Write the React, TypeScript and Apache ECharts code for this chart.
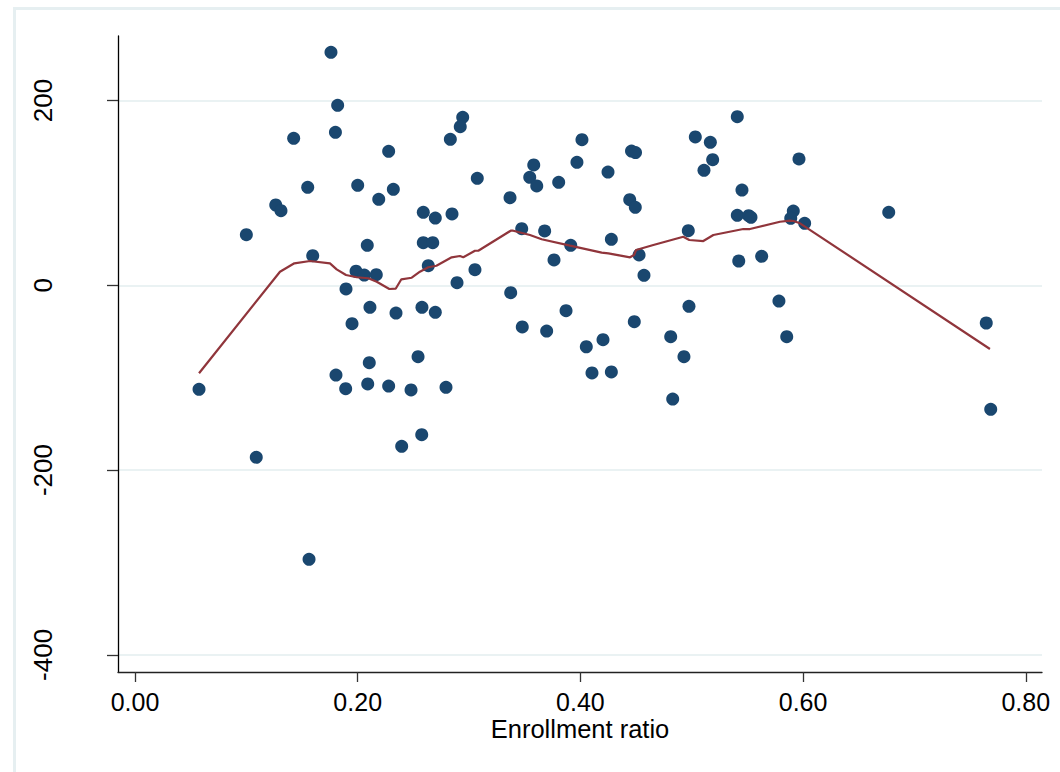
import React, { useEffect, useRef } from "react";
import * as echarts from "echarts";

// Scatter data: enrollment ratio (x) and residual value (y)
const enrollX: number[] = [
  0.176, 0.182, 0.180, 0.1425, 0.2278, 0.2943, 0.2921, 0.2832, 0.1551, 0.2,
  0.232, 0.2189, 0.3074, 0.1264, 0.1311, 0.2589, 0.2697, 0.2847, 0.1, 0.2086,
  0.2589, 0.2674, 0.1596, 0.2634, 0.1985, 0.2059, 0.2167, 0.3053, 0.2892, 0.1895,
  0.211, 0.2344, 0.2577, 0.2697, 0.1949, 0.3374, 0.3478, 0.3697, 0.0575, 0.1089,
  0.1563, 0.1805, 0.2104, 0.1892, 0.209, 0.2278, 0.2479, 0.2542, 0.2793, 0.2395,
  0.2575, 0.4014, 0.3581, 0.3545, 0.3608, 0.3805, 0.3969, 0.3368, 0.4248, 0.4459,
  0.4495, 0.4443, 0.4493, 0.3473, 0.3679, 0.3913, 0.3763, 0.4278, 0.4527, 0.4571,
  0.5032, 0.5167, 0.5188, 0.511, 0.5409, 0.5451, 0.5409, 0.5511, 0.5532, 0.5963,
  0.5912, 0.5889, 0.6014, 0.4969, 0.5422, 0.5628, 0.6769, 0.3871, 0.4053, 0.4203,
  0.4104, 0.4278, 0.4484, 0.4811, 0.493, 0.4829, 0.4975, 0.5783, 0.5853, 0.7645,
  0.7685,
];
const residY: number[] = [
  252.2, 194.8, 165.6, 159.1, 145.0, 181.8, 171.6, 158.0, 106.1, 108.2,
  103.9, 93.1, 115.8, 86.9, 80.7, 79.0, 72.8, 77.2, 54.8, 43.3,
  46.1, 46.1, 32.0, 21.2, 15.2, 11.1, 11.5, 16.9, 2.8, -4.0,
  -23.8, -30.0, -23.8, -29.2, -41.6, -8.0, -45.1, -49.5, -112.6, -186.1,
  -296.5, -97.1, -83.8, -111.9, -106.8, -109.0, -113.3, -77.3, -110.4, -174.2,
  -161.7, 157.6, 130.2, 116.9, 107.5, 111.5, 133.1, 94.8, 122.6, 145.3,
  143.7, 92.6, 84.4, 61.3, 58.8, 43.3, 27.4, 49.8, 32.8, 10.8,
  160.5, 154.8, 135.9, 124.5, 182.5, 103.1, 75.8, 75.3, 73.6, 136.7,
  80.4, 72.5, 67.1, 59.1, 26.3, 31.4, 79.0, -27.5, -66.5, -58.9,
  -94.9, -93.8, -39.4, -55.6, -77.3, -123.1, -22.7, -17.0, -55.6, -40.8,
  -134.2,
];

// Smoothed (lowess) curve
const smoothX: number[] = [
  0.0575, 0.1302, 0.1431, 0.1572, 0.1751, 0.1811, 0.1895, 0.1991, 0.2095, 0.2171,
  0.2284, 0.2341, 0.2392, 0.2485, 0.2559, 0.2634, 0.2707, 0.2844, 0.2918, 0.2948,
  0.3053, 0.3083, 0.3374, 0.3397, 0.3547, 0.3652, 0.3907, 0.4191, 0.4251, 0.4446,
  0.4482, 0.45, 0.4655, 0.4924, 0.4978, 0.5104, 0.5194, 0.5463, 0.5523, 0.5792,
  0.5882, 0.5914, 0.5972, 0.7678,
];
const smoothY: number[] = [
  -95.2, 14.7, 23.8, 26.3, 23.8, 17.3, 11.1, 8.7, 7.6, 3.9,
  -4.0, -3.7, 6.5, 8.2, 14.7, 19.5, 21.2, 30.3, 31.7, 30.3,
  37.4, 37.4, 59.1, 59.1, 54.4, 49.8, 42.9, 35.3, 34.6, 30.3,
  32.8, 38.2, 43.6, 52.6, 49.0, 47.9, 54.4, 60.9, 60.9, 68.8,
  69.9, 69.6, 67.1, -68.9,
];

const xTicks: number[] = [0, 0.2, 0.4, 0.6, 0.8];
const yTicks: number[] = [-400, -200, 0, 200];
const xTitle = "Enrollment ratio";

export default function App() {
  const ref = useRef<HTMLDivElement>(null);
  useEffect(() => {
    if (!ref.current) return;
    const chart = echarts.init(ref.current, undefined, { renderer: "svg" });
    const font = "'Liberation Sans', Arial, Helvetica, sans-serif";
    chart.setOption({
      animation: false,
      backgroundColor: "#ffffff",
      textStyle: { fontFamily: font },
      graphic: [
        {
          type: "rect",
          shape: { x: 14.5, y: 8.5, width: 1100, height: 800 },
          style: { fill: "none", stroke: "#e6eff1", lineWidth: 3 },
          silent: true,
          z: -10,
        },
      ],
      grid: { left: 118, top: 36, right: 18, bottom: 100, containLabel: false },
      xAxis: {
        type: "value",
        min: -0.01527,
        max: 0.81455,
        name: xTitle,
        nameLocation: "middle",
        nameGap: 47,
        nameMoveOverlap: false,
        nameTextStyle: { fontSize: 25.5, lineHeight: 20, color: "#000", fontFamily: font },
        axisLine: { show: true, onZero: false, lineStyle: { color: "#222", width: 1.3 } },
        axisTick: {
          show: true,
          customValues: xTicks,
          length: 10,
          lineStyle: { color: "#333", width: 1.3 },
        },
        axisLabel: {
          customValues: xTicks,
          formatter: (v: number) => v.toFixed(2),
          fontSize: 25,
          lineHeight: 20,
          color: "#000",
          margin: 20,
          fontFamily: font,
        },
        splitLine: { show: false },
      },
      yAxis: {
        type: "value",
        min: -418.5,
        max: 269.8,
        axisLine: { show: true, onZero: false, lineStyle: { color: "#000", width: 1.3 } },
        axisTick: {
          show: true,
          customValues: yTicks,
          length: 11,
          lineStyle: { color: "#333", width: 1.3 },
        },
        axisLabel: {
          customValues: yTicks,
          formatter: (v: number) => String(v),
          rotate: 90,
          fontSize: 26,
          color: "#000",
          margin: 62,
          fontFamily: font,
        },
        splitLine: { show: true, lineStyle: { color: "#eaf2f3", width: 2 } },
      },
      series: [
        {
          type: "scatter",
          data: enrollX.map((x, i) => [x, residY[i]]),
          symbol: "circle",
          symbolSize: 13,
          itemStyle: { color: "#1a476f", opacity: 1 },
          z: 2,
        },
        {
          type: "line",
          data: smoothX.map((x, i) => [x, smoothY[i]]),
          showSymbol: false,
          symbol: "none",
          lineStyle: { color: "#90353b", width: 2.2 },
          z: 3,
        },
      ],
    });
    return () => chart.dispose();
  }, []);
  return (
    <div
      ref={ref}
      style={{ position: "fixed", left: 0, top: 0, width: 1060, height: 772 }}
    />
  );
}
